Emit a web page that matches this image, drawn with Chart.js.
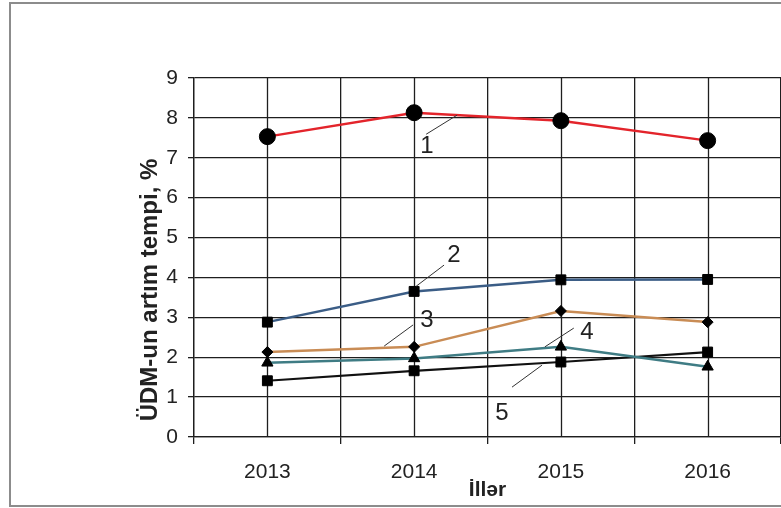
<!DOCTYPE html>
<html>
<head>
<meta charset="utf-8">
<script src="https://cdn.jsdelivr.net/npm/chart.js@4.4.1/dist/chart.umd.min.js"></script>
<style>
    html, body { margin: 0; padding: 0; background: #ffffff; }
</style>
</head>
<body>
<canvas id="gdpChart" width="781" height="508"></canvas>
<script>
const years = ["2013", "2014", "2015", "2016"];
const series1 = [7.53, 8.13, 7.93, 7.43];
const series2 = [2.88, 3.65, 3.94, 3.95];
const series3 = [2.13, 2.26, 3.16, 2.88];
const series4 = [1.86, 1.97, 2.26, 1.76];
const series5 = [1.41, 1.66, 1.88, 2.13];
const seriesNames = ["1", "2", "3", "4", "5"];
const yTicks = [0, 1, 2, 3, 4, 5, 6, 7, 8, 9];
const yTitle = "ÜDM-un artım tempi, %";
const xTitle = "İllər";

// callout label + leader line, in axis units (x = category index, y = value)
const callouts = [
    { lx: 1.088, ly: 7.29, x1: 1.082, y1: 7.59, x2: 1.293, y2: 8.07 },
    { lx: 1.272, ly: 4.56, x1: 1.204, y1: 4.31, x2: 1.014, y2: 3.78 },
    { lx: 1.088, ly: 2.93, x1: 0.993, y1: 2.81, x2: 0.796, y2: 2.28 },
    { lx: 2.177, ly: 2.63, x1: 2.088, y1: 2.73, x2: 1.891, y2: 2.26 },
    { lx: 1.599, ly: 0.60, x1: 1.667, y1: 1.25, x2: 1.871, y2: 1.80 }
];

const gridColor = "#1e1e1e";

// outer frame, centre grid lines, y title and callouts
const decorPlugin = {
    id: "decor",
    beforeDraw(chart) {
        const ctx = chart.ctx;
        ctx.save();
        ctx.fillStyle = "#ffffff";
        ctx.fillRect(0, 0, chart.width, chart.height);
        ctx.strokeStyle = "#8c8c8c";
        ctx.lineWidth = 2;
        ctx.strokeRect(10, 3, 800, 503);
        ctx.restore();
    },
    beforeDatasetsDraw(chart) {
        const ctx = chart.ctx;
        const x = chart.scales.x;
        const area = chart.chartArea;
        ctx.save();
        ctx.strokeStyle = gridColor;
        ctx.lineWidth = 1.3;
        years.forEach((y, i) => {
            const px = Math.round(x.getPixelForValue(i)) + 0.5;
            ctx.beginPath();
            ctx.moveTo(px, area.top);
            ctx.lineTo(px, area.bottom);
            ctx.stroke();
        });
        ctx.restore();
    },
    afterDraw(chart) {
        const ctx = chart.ctx;
        const x = chart.scales.x;
        const y = chart.scales.y;
        ctx.save();
        // y axis title
        ctx.translate(150, 290);
        ctx.rotate(-Math.PI / 2);
        ctx.font = "bold 24px 'Liberation Sans', Arial, sans-serif";
        ctx.fillStyle = "#222222";
        ctx.textAlign = "center";
        ctx.textBaseline = "middle";
        ctx.fillText(yTitle, 0, 0);
        ctx.restore();

        ctx.save();
        ctx.strokeStyle = "#333333";
        ctx.lineWidth = 1;
        ctx.fillStyle = "#222222";
        ctx.font = "24px 'Liberation Sans', Arial, sans-serif";
        ctx.textAlign = "center";
        ctx.textBaseline = "middle";
        callouts.forEach((c, i) => {
            ctx.beginPath();
            ctx.moveTo(x.getPixelForValue(c.x1), y.getPixelForValue(c.y1));
            ctx.lineTo(x.getPixelForValue(c.x2), y.getPixelForValue(c.y2));
            ctx.stroke();
            ctx.fillText(seriesNames[i], x.getPixelForValue(c.lx), y.getPixelForValue(c.ly));
        });
        ctx.restore();
    }
};

function makeSet(label, data, color, style, radius, width) {
    return {
        label: label,
        data: data,
        borderColor: color,
        borderWidth: width,
        pointStyle: style,
        pointRadius: radius,
        pointHoverRadius: radius,
        pointBackgroundColor: "#000000",
        pointBorderColor: "#000000",
        pointBorderWidth: 1,
        tension: 0,
        fill: false,
        clip: false
    };
}

const ctx = document.getElementById("gdpChart").getContext("2d");
new Chart(ctx, {
    type: "line",
    data: {
        labels: years,
        datasets: [
            makeSet(seriesNames[0], series1, "#e3242b", "circle", 8, 2.5),
            makeSet(seriesNames[1], series2, "#3b5d86", "rect", 7, 2.5),
            makeSet(seriesNames[2], series3, "#c98c55", "rectRot", 5.5, 2.5),
            makeSet(seriesNames[3], series4, "#3f7c84", "triangle", 6.5, 2.5),
            makeSet(seriesNames[4], series5, "#111111", "rect", 7, 2.2)
        ]
    },
    options: {
        responsive: false,
        animation: false,
        devicePixelRatio: 1,
        layout: { autoPadding: false, padding: { top: 78, right: 0, bottom: 5, left: 0 } },
        plugins: {
            legend: { display: false },
            tooltip: { enabled: false }
        },
        scales: {
            x: {
                type: "category",
                offset: true,
                afterFit(scale) {
                    scale.height = 66;
                    scale.paddingLeft = 0;
                    scale.paddingRight = 0;
                },
                grid: {
                    offset: true,
                    color: gridColor,
                    lineWidth: 1.3,
                    tickLength: 7,
                    drawTicks: true
                },
                border: { color: gridColor, width: 1.3 },
                ticks: {
                    color: "#222222",
                    padding: 16,
                    font: { family: "'Liberation Sans', Arial, sans-serif", size: 21 }
                },
                title: {
                    display: true,
                    text: xTitle,
                    color: "#222222",
                    padding: 0,
                    font: { family: "'Liberation Sans', Arial, sans-serif", size: 21, weight: "bold" }
                }
            },
            y: {
                min: 0,
                max: 9,
                afterFit(scale) { scale.width = 194; },
                afterBuildTicks(scale) { scale.ticks = yTicks.map(v => ({ value: v })); },
                grid: {
                    color: gridColor,
                    lineWidth: 1.3,
                    tickLength: 6
                },
                border: { color: gridColor, width: 1.3 },
                ticks: {
                    color: "#222222",
                    padding: 10,
                    font: { family: "'Liberation Sans', Arial, sans-serif", size: 21 }
                }
            }
        }
    },
    plugins: [decorPlugin]
});
</script>
</body>
</html>
